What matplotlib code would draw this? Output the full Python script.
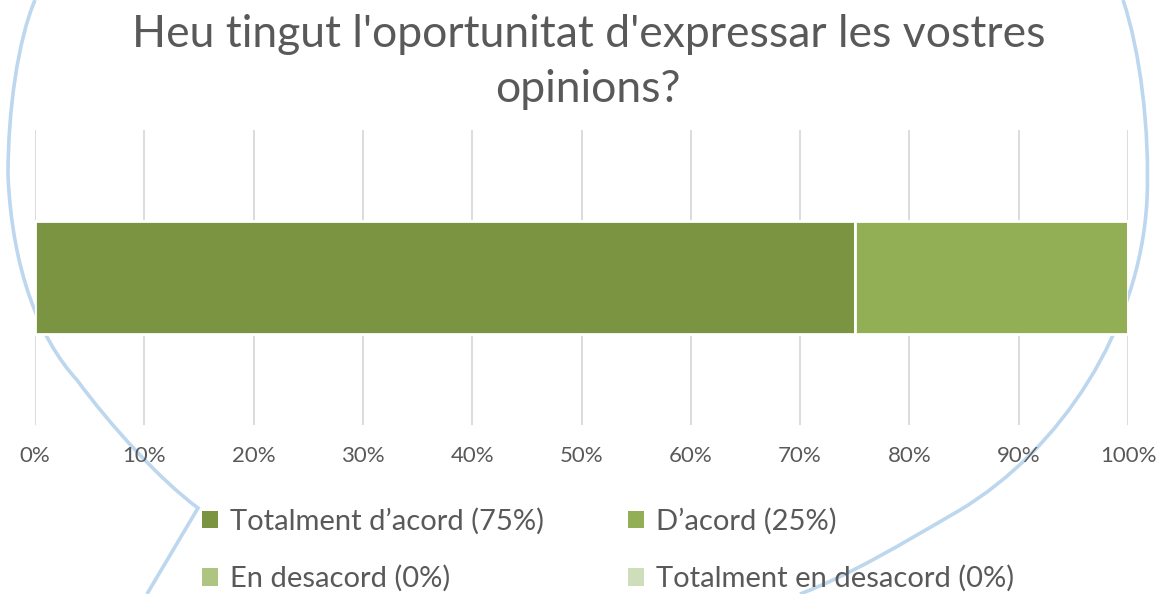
import matplotlib.pyplot as plt
import matplotlib.ticker as ticker
from matplotlib.patches import Patch, PathPatch
from matplotlib.path import Path

plt.rcParams['font.family'] = ['Lato', 'DejaVu Sans']

# dades
title = "Heu tingut l'oportunitat d'expressar les vostres\nopinions?"
categories = ['Totalment d’acord', 'D’acord', 'En desacord', 'Totalment en desacord']
values = [75, 25, 0, 0]
colors = ['#7A9441', '#92AF55', '#ADC580', '#CEDDBA']

W, H = 1158, 594
fig = plt.figure(figsize=(W / 100, H / 100), dpi=100)

# bafarada blava decorativa (píxels de la imatge, corbes de Bézier)
C4, MV, LN = Path.CURVE4, Path.MOVETO, Path.LINETO
left_path = ([(35, 0), (18, 40), (8, 110), (8, 175),
              (12, 270), (40, 340), (77, 380),
              (110, 425), (160, 480), (198, 508),
              (147, 594)],
             [MV, C4, C4, C4, C4, C4, C4, C4, C4, C4, LN])
right_path = ([(1123, 0), (1140, 50), (1150, 130), (1147, 200),
               (1140, 330), (1060, 450), (960, 510),
               (900, 545), (850, 575), (800, 594)],
              [MV, C4, C4, C4, C4, C4, C4, C4, C4, C4])
for pts, codes in (left_path, right_path):
    verts = [(x / W, 1 - y / H) for x, y in pts]
    fig.add_artist(PathPatch(Path(verts, codes), transform=fig.transFigure,
                             facecolor='none', edgecolor='#BDD7EE', lw=2.6, zorder=0))

ax = fig.add_axes([35 / W, 1 - 425 / H, 1093 / W, 295 / H])
ax.patch.set_alpha(0)

left = 0
for cat, v, c in zip(categories, values, colors):
    ax.barh(0, v, left=left, height=0.386, color=c, edgecolor='white',
            linewidth=2, zorder=3)
    left += v

ax.set_xlim(0, 100)
ax.set_ylim(-0.5, 0.5)
ax.set_xticks(range(0, 101, 10))
ax.xaxis.set_major_formatter(ticker.FuncFormatter(lambda x, p: f'{int(x)}%'))
ax.set_yticks([])
ax.grid(axis='x', color='#D9D9D9', linewidth=1.3, zorder=0)
ax.tick_params(axis='x', length=0, pad=15, labelsize=16, labelcolor='#595959')
for s in ax.spines.values():
    s.set_visible(False)

fig.text(0.508, 1 - 62 / H, title, ha='center', va='center', fontsize=32,
         color='#595959', linespacing=1.42)

# llegenda per files (ordre: 0, 2 / 1, 3 en columnes)
handles = [Patch(facecolor=c, edgecolor='none') for c in colors]
labels = [f'{cat} ({v}%)' for cat, v in zip(categories, values)]
order = [0, 2, 1, 3]
fig.legend([handles[i] for i in order], [labels[i] for i in order], ncol=2,
           loc='center', bbox_to_anchor=(0.525, 1 - 550 / H),
           frameon=False, fontsize=21, labelcolor='#595959', handlelength=0.55,
           handleheight=0.55, handletextpad=0.4, columnspacing=2.9, labelspacing=1.05)

fig.savefig('out.png', dpi=100)
